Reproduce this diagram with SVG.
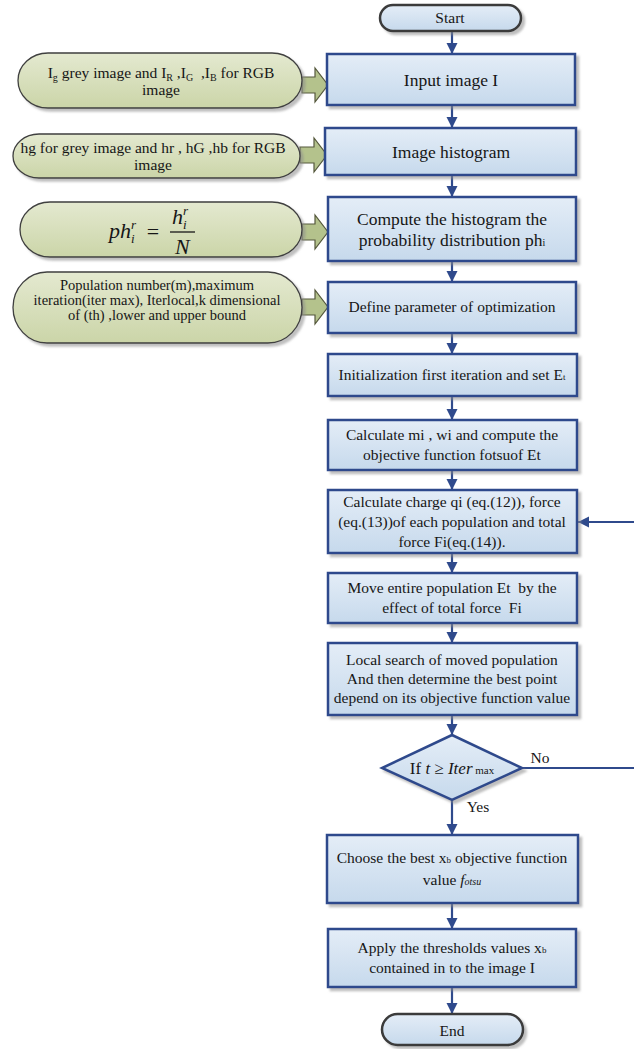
<svg xmlns="http://www.w3.org/2000/svg" width="634" height="1049" viewBox="0 0 634 1049" font-family="'Liberation Serif', serif">
<defs>
<linearGradient id="gBlue" x1="0" y1="0" x2="0" y2="1"><stop offset="0" stop-color="#e4edf7"/><stop offset="1" stop-color="#c6d9ec"/></linearGradient>
<linearGradient id="gGreen" x1="0" y1="0" x2="0" y2="1"><stop offset="0" stop-color="#e4e9d0"/><stop offset="1" stop-color="#cbd5a8"/></linearGradient>
<filter id="sh" x="-10%" y="-10%" width="130%" height="140%"><feDropShadow dx="3" dy="3" stdDeviation="1.2" flood-color="#8a8a8a" flood-opacity="0.55"/></filter>
<marker id="ah" markerUnits="userSpaceOnUse" markerWidth="12" markerHeight="12" refX="11" refY="6" orient="auto"><path d="M0,0.5 L11,6 L0,11.5 Z" fill="#2f4a8c"/></marker>
</defs>
<style>
text{font-family:'Liberation Serif',serif}
.box{fill:url(#gBlue);stroke:#2f4a8c;stroke-width:2.5;filter:url(#sh)}
.term{fill:url(#gBlue);stroke:#3a3a3a;stroke-width:2.5;filter:url(#sh)}
.inp{fill:url(#gGreen);stroke:#3f3f3f;stroke-width:1.3;filter:url(#sh)}
.barrow{fill:#b4c28c;stroke:#55583c;stroke-width:1.2}
.t{fill:#161616;text-anchor:middle}
.s15{font-size:15.5px}.s17{font-size:17.5px}.s14{font-size:14.5px}
.conn{stroke:#2f4a8c;stroke-width:2.2;fill:none}
.m{font-style:italic;font-size:22px;fill:#161616}
</style>

<g id="connectors">
<line class="conn" x1="452" y1="31" x2="452" y2="54" marker-end="url(#ah)"/>
<line class="conn" x1="452" y1="105" x2="452" y2="128" marker-end="url(#ah)"/>
<line class="conn" x1="452" y1="175" x2="452" y2="197" marker-end="url(#ah)"/>
<line class="conn" x1="452" y1="261" x2="452" y2="282" marker-end="url(#ah)"/>
<line class="conn" x1="452" y1="333" x2="452" y2="354" marker-end="url(#ah)"/>
<line class="conn" x1="452" y1="396" x2="452" y2="420" marker-end="url(#ah)"/>
<line class="conn" x1="452" y1="470" x2="452" y2="490" marker-end="url(#ah)"/>
<line class="conn" x1="452" y1="553" x2="452" y2="573" marker-end="url(#ah)"/>
<line class="conn" x1="452" y1="623" x2="452" y2="643" marker-end="url(#ah)"/>
<line class="conn" x1="452" y1="715" x2="452" y2="735" marker-end="url(#ah)"/>
<line class="conn" x1="452" y1="800" x2="452" y2="835" marker-end="url(#ah)"/>
<line class="conn" x1="452" y1="903" x2="452" y2="929" marker-end="url(#ah)"/>
<line class="conn" x1="452" y1="987" x2="452" y2="1014" marker-end="url(#ah)"/>
<path class="conn" d="M522,768 H637 V522 H578" marker-end="url(#ah)"/>
<polygon class="barrow" points="302,77 315,77 315,68 328,85 315,102 315,93 302,93"/>
<polygon class="barrow" points="300,147 314,147 314,138 327,155 314,172 314,163 300,163"/>
<polygon class="barrow" points="302,224 315,224 315,215 328,232 315,249 315,240 302,240"/>
<polygon class="barrow" points="302,299 315,299 315,290 328,307 315,324 315,315 302,315"/>
<text class="t s15" x="540" y="763" font-family="'Liberation Serif', serif">No</text>
<text class="t s15" x="478" y="812" font-family="'Liberation Serif', serif">Yes</text>
</g>

<g id="start"><rect class="term" x="380" y="5" width="141" height="26" rx="13"/><text class="t s15" x="450" y="23" font-family="'Liberation Serif', serif">Start</text></g>

<g id="input"><rect class="box" x="327" y="54" width="248" height="51"/><text class="t s17" x="451" y="86" font-family="'Liberation Serif', serif">Input image I</text></g>

<g id="hist"><rect class="box" x="325" y="128" width="251" height="47"/><text class="t s17" x="451" y="158" font-family="'Liberation Serif', serif">Image histogram</text></g>

<g id="compute"><rect class="box" x="328" y="197" width="248" height="64"/><text class="t s17" x="452" y="225" font-family="'Liberation Serif', serif">Compute the histogram the</text><text class="t s17" x="452" y="246" font-family="'Liberation Serif', serif">probability distribution ph<tspan font-size="10">i</tspan></text></g>

<g id="define"><rect class="box" x="328" y="282" width="248" height="51"/><text class="t s15" x="452" y="312" font-family="'Liberation Serif', serif">Define parameter of optimization</text></g>

<g id="init"><rect class="box" x="328" y="354" width="249" height="42"/><text class="t s15" x="452" y="380" font-family="'Liberation Serif', serif">Initialization first iteration and set E<tspan font-size="9">t</tspan></text></g>

<g id="calcmi"><rect class="box" x="328" y="420" width="249" height="50"/><text class="t s15" x="452" y="440" font-family="'Liberation Serif', serif">Calculate mi , wi and compute the</text><text class="t s15" x="452" y="460" font-family="'Liberation Serif', serif">objective function fotsuof Et</text></g>

<g id="charge"><rect class="box" x="328" y="490" width="249" height="63"/><text class="t s15" x="452" y="507" font-family="'Liberation Serif', serif">Calculate charge qi (eq.(12)), force</text><text class="t s15" x="452" y="527" font-family="'Liberation Serif', serif">(eq.(13))of each population and total</text><text class="t s15" x="452" y="547" font-family="'Liberation Serif', serif">force Fi(eq.(14)).</text></g>

<g id="move"><rect class="box" x="328" y="573" width="249" height="50"/><text class="t s15" x="452" y="593" font-family="'Liberation Serif', serif" xml:space="preserve">Move entire population Et  by the</text><text class="t s15" x="452" y="613" font-family="'Liberation Serif', serif" xml:space="preserve">effect of total force  Fi</text></g>

<g id="local"><rect class="box" x="328" y="643" width="249" height="72"/><text class="t s15" x="452" y="665" font-family="'Liberation Serif', serif">Local search of moved population</text><text class="t s15" x="452" y="684" font-family="'Liberation Serif', serif">And then determine the best point</text><text class="t s15" x="452" y="703" font-family="'Liberation Serif', serif">depend on its objective function value</text></g>

<g id="decision"><polygon class="box" points="452,735 522,768 452,800 382,768"/><text class="t" font-size="17" x="452" y="774" font-family="'Liberation Serif', serif">If <tspan font-style="italic">t</tspan> ≥ <tspan font-style="italic">Iter</tspan><tspan font-size="11"> max</tspan></text></g>

<g id="choose"><rect class="box" x="327" y="835" width="251" height="68"/><text class="t s15" x="452" y="863" font-family="'Liberation Serif', serif">Choose the best x<tspan font-size="9">b</tspan> objective function</text><text class="t s15" x="452" y="885" font-family="'Liberation Serif', serif">value <tspan font-style="italic">f<tspan font-size="10">otsu</tspan></tspan></text></g>

<g id="apply"><rect class="box" x="328" y="929" width="248" height="58"/><text class="t s15" x="452" y="953" font-family="'Liberation Serif', serif">Apply the thresholds values x<tspan font-size="9">b</tspan></text><text class="t s15" x="452" y="973" font-family="'Liberation Serif', serif">contained in to the image I</text></g>

<g id="end"><rect class="term" x="382" y="1014" width="141" height="31" rx="15.5"/><text class="t s15" x="452" y="1036" font-family="'Liberation Serif', serif">End</text></g>

<g id="in1"><rect class="inp" x="18" y="53" width="284" height="55" rx="30" ry="27.5"/><text class="t s15" x="161" y="78" font-family="'Liberation Serif', serif" xml:space="preserve">I<tspan font-size="10" dy="3">g</tspan><tspan dy="-3"> grey image and I</tspan><tspan font-size="10" dy="3">R</tspan><tspan dy="-3"> ,I</tspan><tspan font-size="10" dy="3">G</tspan><tspan dy="-3">  ,I</tspan><tspan font-size="10" dy="3">B</tspan><tspan dy="-3"> for RGB</tspan></text><text class="t s15" x="161" y="95" font-family="'Liberation Serif', serif">image</text></g>

<g id="in2"><rect class="inp" x="13" y="134" width="287" height="44" rx="26" ry="22"/><text class="t s15" x="153" y="153" font-family="'Liberation Serif', serif">hg for grey image and hr , hG ,hb for RGB</text><text class="t s15" x="153" y="170" font-family="'Liberation Serif', serif">image</text></g>

<g id="in3"><rect class="inp" x="20" y="202" width="282" height="55" rx="30" ry="27.5"/>
<text class="m" x="109" y="238" font-family="'Liberation Serif', serif">ph<tspan font-size="13" dy="-9">r</tspan><tspan font-size="13" dx="-5" dy="14">i</tspan></text>
<text class="t" font-size="22" x="153" y="239" font-family="'Liberation Serif', serif">=</text>
<line x1="170" y1="232" x2="195" y2="232" stroke="#161616" stroke-width="1.3"/>
<text class="m" x="172" y="224" font-family="'Liberation Serif', serif">h<tspan font-size="13" dy="-9">r</tspan><tspan font-size="13" dx="-5" dy="14">i</tspan></text>
<text class="m" x="175" y="254" font-family="'Liberation Serif', serif">N</text></g>

<g id="in4"><rect class="inp" x="13" y="272" width="289" height="71" rx="34" ry="35.5"/><text class="t s14" x="157" y="290" font-family="'Liberation Serif', serif">Population number(m),maximum</text><text class="t s14" x="157" y="305" font-family="'Liberation Serif', serif">iteration(iter max), Iterlocal,k dimensional</text><text class="t s14" x="157" y="320" font-family="'Liberation Serif', serif">of (th) ,lower and upper bound</text></g>
</svg>
